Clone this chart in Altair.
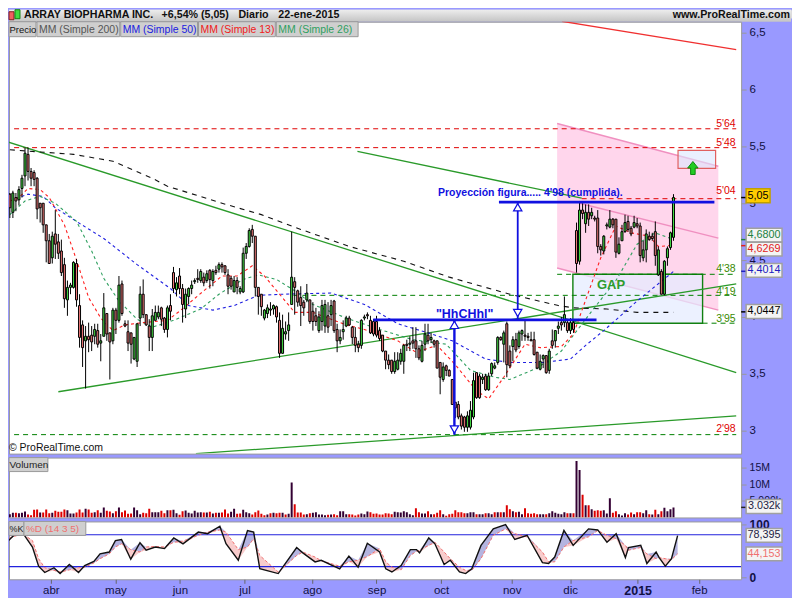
import altair as alt
import pandas as pd

FONT = "Liberation Sans"

opens = [5.08,4.92,5.05,5.03,5.13,5.24,5.43,5.28,5.27,5.22,
5.0,5.0,4.81,4.67,4.52,4.73,4.66,4.58,4.46,4.15,
4.26,4.26,4.47,4.10,3.93,3.79,3.83,3.84,3.83,3.88,
3.77,3.83,4.03,3.86,3.79,4.06,3.97,4.29,3.94,3.87,
3.86,3.63,3.61,3.99,4.20,4.02,3.92,3.82,3.97,4.0,
4.08,3.99,3.89,4.10,4.39,4.24,4.36,4.25,4.07,4.18,
4.25,4.31,4.34,4.32,4.35,4.32,4.41,4.32,4.41,4.42,
4.46,4.45,4.37,4.34,4.22,4.32,4.22,4.22,4.56,4.62,
4.77,4.71,4.26,4.20,3.99,4.03,4.06,4.07,4.09,3.97,
3.68,3.85,3.88,4.11,4.31,4.23,4.17,4.13,4.15,4.15,
4.05,4.01,3.88,3.96,3.92,4.01,4.02,4.14,3.89,3.79,
3.87,3.92,3.99,3.91,3.82,3.76,3.75,3.99,4.02,3.97,
3.96,3.96,3.88,3.84,3.70,3.62,3.62,3.52,3.54,3.61,
3.61,3.76,3.76,3.79,3.79,3.72,3.61,3.76,3.84,3.80,
3.79,3.79,3.60,3.45,3.57,3.53,3.45,3.25,3.23,3.13,
3.12,3.03,3.03,3.12,3.51,3.48,3.45,3.48,3.36,3.50,
3.55,3.60,3.82,3.76,3.94,3.70,3.74,3.80,3.74,3.85,
3.84,3.83,3.80,3.80,3.69,3.54,3.63,3.66,3.53,3.79,
3.79,3.90,3.95,3.95,3.95,3.88,3.95,4.76,4.49,4.94,
4.82,4.92,4.89,4.87,4.87,4.62,4.58,4.80,4.79,4.86,
4.86,4.56,4.67,4.75,4.84,4.78,4.79,4.82,4.80,4.52,
4.59,4.71,4.71,4.75,4.37,4.40,4.20,4.52,4.61,4.70]
closes = [4.96,5.09,5.02,5.12,5.22,5.44,5.28,5.22,5.21,4.95,
4.96,4.81,4.67,4.47,4.71,4.64,4.56,4.39,4.16,4.26,
4.28,4.48,4.15,3.82,3.73,3.83,3.80,3.78,3.89,3.76,
3.79,4.08,3.85,3.78,4.06,3.97,4.28,4.03,3.92,3.77,
3.76,3.82,3.94,4.20,4.02,3.93,3.82,4.01,4.04,4.04,
3.98,3.89,4.08,4.05,4.25,4.30,4.25,4.11,4.20,4.25,
4.28,4.32,4.33,4.40,4.30,4.38,4.33,4.40,4.39,4.46,
4.44,4.39,4.27,4.27,4.32,4.26,4.25,4.56,4.62,4.76,
4.71,4.26,4.18,4.09,4.06,4.08,4.07,4.10,4.0,3.68,
3.90,3.87,3.93,4.35,4.26,4.13,4.10,4.08,4.21,3.96,
3.96,3.96,4.0,4.10,4.11,3.91,4.10,3.88,3.79,3.82,
3.89,3.99,3.93,3.82,3.75,3.73,3.97,4.0,4.01,3.86,
3.85,3.84,3.81,3.70,3.62,3.58,3.52,3.61,3.62,3.68,
3.75,3.75,3.77,3.77,3.72,3.64,3.75,3.85,3.79,3.82,
3.76,3.55,3.47,3.56,3.53,3.48,3.23,3.20,3.12,3.04,
3.03,3.13,3.18,3.44,3.29,3.29,3.47,3.36,3.48,3.59,
3.57,3.82,3.80,3.86,3.58,3.57,3.80,3.71,3.86,3.88,
3.83,3.82,3.79,3.67,3.55,3.61,3.66,3.51,3.70,3.75,
3.88,3.92,3.93,4.02,3.88,3.95,3.89,4.47,4.94,4.91,
4.92,4.86,4.92,4.86,4.62,4.59,4.71,4.81,4.86,4.81,
4.57,4.64,4.75,4.83,4.77,4.73,4.83,4.80,4.54,4.59,
4.73,4.68,4.69,4.54,4.59,4.20,4.49,4.60,4.74,5.05]
highs = [5.09,5.11,5.09,5.15,5.25,5.49,5.49,5.31,5.29,5.23,
5.0,5.0,4.81,4.73,4.75,4.94,4.73,4.68,4.52,4.32,
4.30,4.49,4.51,4.20,3.97,3.92,3.95,3.92,3.94,3.94,
3.85,4.21,4.03,3.86,4.08,4.08,4.36,4.32,3.97,3.97,
3.86,3.82,3.94,4.27,4.33,4.02,3.98,4.07,4.10,4.10,
4.09,4.0,4.10,4.20,4.44,4.35,4.43,4.29,4.25,4.26,
4.32,4.34,4.42,4.42,4.39,4.41,4.42,4.42,4.45,4.48,
4.48,4.45,4.42,4.36,4.36,4.35,4.27,4.61,4.65,4.78,
4.81,4.71,4.26,4.20,4.07,4.11,4.13,4.11,4.10,4.04,
4.02,3.96,4.04,4.75,4.35,4.24,4.27,4.15,4.29,4.15,
4.13,4.08,4.05,4.15,4.15,4.13,4.15,4.15,3.94,3.89,
3.97,4.01,4.01,3.92,3.91,3.79,3.98,4.02,4.04,4.01,
3.98,4.01,3.91,3.84,3.70,3.67,3.62,3.69,3.69,3.72,
3.76,3.80,3.83,3.91,3.91,3.75,3.79,3.94,3.94,3.86,
3.80,3.79,3.60,3.60,3.58,3.54,3.45,3.25,3.26,3.15,
3.13,3.17,3.26,3.51,3.51,3.50,3.50,3.50,3.51,3.60,
3.60,3.83,3.83,3.88,3.96,3.75,3.83,3.86,3.88,3.89,
3.97,3.86,3.87,3.87,3.69,3.67,3.67,3.66,3.72,3.89,
3.88,3.96,4.0,4.18,3.97,3.99,3.98,4.83,5.02,5.0,
4.99,4.99,4.96,4.89,4.94,4.64,4.72,4.83,4.94,4.87,
4.86,4.70,4.81,4.90,4.89,4.80,4.89,4.87,4.83,4.67,
4.77,4.75,4.74,4.84,4.62,4.42,4.50,4.62,4.75,5.08]
lows = [4.87,4.87,4.93,4.98,5.05,5.15,5.2,5.15,5.15,4.86,
4.83,4.74,4.48,4.47,4.47,4.51,4.51,4.36,4.08,4.01,
4.2,4.25,4.09,3.73,3.56,3.37,3.69,3.70,3.76,3.73,
3.61,3.83,3.79,3.45,3.76,3.85,3.95,4.01,3.91,3.70,
3.59,3.62,3.56,3.92,3.99,3.92,3.70,3.70,3.97,3.98,
3.92,3.86,3.82,3.97,4.21,4.18,4.20,3.95,3.99,4.11,
4.20,4.29,4.30,4.30,4.27,4.30,4.25,4.27,4.37,4.39,
4.39,4.37,4.20,4.24,4.22,4.20,4.20,4.21,4.51,4.61,
4.65,4.18,4.02,4.01,3.97,3.99,4.01,4.02,3.95,3.64,
3.68,3.80,3.79,4.11,4.02,4.09,3.92,4.01,4.13,3.94,
3.88,3.92,3.86,3.88,3.86,3.86,3.92,3.86,3.69,3.76,
3.80,3.91,3.92,3.76,3.69,3.69,3.72,3.97,3.98,3.85,
3.83,3.82,3.79,3.69,3.54,3.54,3.50,3.50,3.53,3.58,
3.50,3.70,3.70,3.72,3.64,3.62,3.60,3.70,3.76,3.77,
3.73,3.55,3.32,3.43,3.48,3.48,3.23,3.11,3.10,3.01,
2.99,2.99,3.01,3.10,3.28,3.28,3.41,3.35,3.35,3.48,
3.54,3.58,3.79,3.60,3.47,3.55,3.61,3.69,3.72,3.79,
3.79,3.79,3.79,3.66,3.54,3.53,3.55,3.50,3.50,3.72,
3.73,3.85,3.88,3.91,3.86,3.85,3.86,4.39,4.46,4.86,
4.74,4.80,4.86,4.84,4.56,4.54,4.55,4.77,4.78,4.78,
4.52,4.55,4.67,4.74,4.75,4.71,4.78,4.78,4.48,4.49,
4.48,4.67,4.67,4.45,4.36,4.20,4.19,4.45,4.59,4.67]
volumes = [1.0,1.4,1.4,1.3,1.4,1.8,0.9,0.7,2.3,2.4,
1.5,1.5,2.4,1.3,1.4,2.0,1.7,1.7,2.4,2.2,
1.2,1.2,1.5,2.4,1.5,2.6,2.4,1.4,1.6,2.2,
1.4,3.0,2.0,1.8,1.3,1.9,3.0,1.6,2.1,1.1,
1.2,3.0,2.2,1.0,1.4,1.3,2.6,1.6,1.6,1.6,
2.0,1.3,2.2,2.2,2.3,1.3,0.8,1.9,2.1,1.4,
1.2,2.0,1.5,1.6,1.5,1.5,1.7,1.2,1.4,1.4,
1.5,2.4,1.2,1.7,2.6,1.1,1.2,2.3,1.6,1.3,
0.9,1.6,2.1,1.1,0.7,0.9,1.3,1.4,1.3,1.4,
1.4,0.9,1.1,10.5,4.0,1.5,1.5,0.9,1.0,1.3,
1.4,1.6,0.9,0.9,0.7,0.8,0.9,1.0,0.7,1.9,
1.9,1.0,1.0,0.9,0.6,0.9,1.2,1.0,1.8,1.6,
1.1,1.2,0.9,0.9,1.3,1.2,1.0,1.7,1.6,1.5,
1.9,1.6,1.0,0.7,2.8,1.6,1.2,1.2,1.9,1.0,1.0,1.4,2.2,1.0,0.5,1.0,1.1,
2.2,1.6,1.6,1.3,1.3,1.6,1.6,1.0,1.0,1.0,1.3,1.3,1.0,1.6,
1.6,1.6,1.6,3.7,2.5,1.9,1.6,1.7,1.0,2.8,1.3,1.1,1.3,
1.0,1.0,1.0,1.0,1.3,1.9,1.4,1.1,1.0,1.6,1.3,1.3,1.3,
17,14.3,6.8,3.7,3.7,2.5,2.0,2.2,2.0,2.2,1.2,5.8,1.4,1.9,
1.0,0.6,1.3,0.9,1.5,1.0,1.6,1.6,1.3,2.2,1.0,0.9,2.3,
1.0,1.9,2.9,1.9,2.5,3.03]

ma200_i = [0,21,34,47,52,70,83,96,112,130,145,165,181,186,197,207,219]
ma200_p = [5.47,5.43,5.37,5.22,5.15,5.0,4.90,4.77,4.62,4.49,4.35,4.2,4.10,4.08,4.07,4.04,4.04]
ma50_i = [2,6,11,15,22,31,42,53,59,67,74,82,90,106,117,128,138,146,157,165,176,185,190,196,207,219]
ma50_p = [5.04,5.08,5.06,4.96,4.84,4.69,4.46,4.25,4.10,4.06,4.10,4.19,4.20,4.21,4.11,3.94,3.86,3.79,3.63,3.60,3.60,3.63,3.75,3.88,4.14,4.40]
ma26_i = [0,5,10,15,22,27,31,36,42,47,54,63,69,77,82,88,94,100,111,122,133,144,152,160,165,174,182,192,200,207,213,219]
ma26_p = [4.90,5.02,5.06,5.0,4.84,4.58,4.34,4.14,3.98,3.91,3.97,4.07,4.20,4.33,4.37,4.33,4.23,4.11,3.99,3.89,3.80,3.76,3.53,3.47,3.45,3.55,3.70,4.05,4.32,4.64,4.74,4.68]
ma13_i = [0,3,6,10,13,18,22,26,30,34,38,44,52,56,64,70,75,80,84,89,94,100,111,117,128,134,141,147,154,158,163,170,175,182,186,195,200,205,211,214,219]
ma13_p = [5.02,5.05,5.13,5.12,5.05,4.81,4.50,4.17,3.99,3.88,3.93,3.95,3.97,4.05,4.23,4.36,4.36,4.45,4.36,4.20,4.04,4.04,3.93,3.89,3.79,3.69,3.75,3.58,3.35,3.28,3.47,3.76,3.73,3.74,3.85,4.52,4.80,4.74,4.71,4.62,4.63]

st_i = [0,1,3,6,9,11,13,16,18,21,24,26,29,31,34,36,38,41,44,46,49,52,55,58,63,66,70,72,76,79,81,83,89,95,97,101,103,109,112,115,118,122,124,126,129,
        132,134,135,138,140,143,145,148,150,152,155,159,163,166,170,175,177,179,182,185,190,193,196,199,202,203,207,209,212,213,215,217,219]
st_k = [72.5,68,79,82,57,21,9,18,7,24,9,22,30,44,47.5,69,71,34,65,51,57,54,74,63,85,82,96,63,32,88,85,16,7,56,46,29,32,16,40,19,64,47.5,16,10,22,
        52,52,46,74,63,24,32,10,7,16,60,91,99,71,79,27.5,26,38,88,60,91,89,66,82,37,56,60,26,47.5,37,21,35,78.4]
st_d = [76,72.5,77,81,69,35,18,13,10,14,18,19,27,35,44,57,63,52,47.5,57,58,57,66,68,79,85,89,85,52,57,72.5,41,10,41,47.5,38,31,21,29,32,39,54,29,19,14,
        41,49,51,60,66,47.5,35,19,13,13,35,79,91,82,76,47.5,29,29,57,69,76,88,79,72.5,60,51,56,44,35,37,35,33,44.15]

month_ticks = [15,36,57,78,100,121,142,165,184,206,226]
month_names = ["abr","may","jun","jul","ago","sep","oct","nov","dic","2015","feb"]

levels = [(5.655,1.4,239.7,"#E00000"),(5.489,1.4,239.7,"#E00000"),(5.04,188.7,239.7,"#E00000"),
          (4.375,180.6,239.7,"#008000"),(4.19,93.6,239.7,"#008000"),(3.945,228.6,239.7,"#008000"),(2.965,1.4,239.7,"#008000")]
level_labels = [("5'64",5.693,"#E00000"),("5'48",5.526,"#E00000"),("5'04",5.105,"#E00000"),
                ("4'38",4.42,"#3A8A00"),("4'19",4.22,"#3A8A00"),("3'95",3.98,"#3A8A00"),("2'98",3.017,"#E00000")]
trend_lines = [(-1.2,5.544,239.7,3.51,"#2A9A2A"),(114.7,5.456,188.7,5.044,"#2A9A2A"),
               (16,3.342,239.7,4.29,"#2A9A2A"),(61.4,2.798,239.7,3.13,"#2A9A2A"),(182.2,6.60,239.7,6.351,"#F03030")]

xs = alt.Scale(domain=[1.364, 239.675], nice=False, zero=False)
ys = alt.Scale(domain=[2.798, 6.5965], nice=False, zero=False)
vs = alt.Scale(domain=[0, 18], nice=False, zero=False)
ss = alt.Scale(domain=[-3.75, 105], nice=False, zero=False)

dummy = pd.DataFrame({"a": [0]})
n = min(len(opens), len(closes), len(highs), len(lows))
cd = pd.DataFrame({"i": range(n), "o": opens[:n], "h": highs[:n], "l": lows[:n], "c": closes[:n]})
cd["dir"] = ["up" if c >= o else "dn" for o, c in zip(cd.o, cd.c)]
vd = pd.DataFrame({"i": range(len(volumes)), "v": volumes})
vd["dir"] = ["up" if k == 0 or k >= n or closes[k] >= closes[k-1] else "dn" for k in range(len(volumes))]


def X(f="i"):
    return alt.X(f"{f}:Q", scale=xs, axis=None)


def Y(f="p", s=ys):
    return alt.Y(f"{f}:Q", scale=s, axis=None)


def seg(i0, p0, i1, p1, color, w=1.5, dash=None, s=ys):
    df = pd.DataFrame({"i": [i0, i1], "p": [p0, p1]})
    kw = dict(color=color, strokeWidth=w, clip=True)
    if dash:
        kw["strokeDash"] = dash
    return alt.Chart(df).mark_line(**kw).encode(x=X(), y=Y("p", s))


def txt(i, p, t, color="black", size=11, bold=False, align="left", s=ys):
    return alt.Chart(pd.DataFrame({"i": [i], "p": [p], "t": [t]})).mark_text(
        color=color, fontSize=size, fontWeight="bold" if bold else "normal", align=align,
        baseline="middle", font=FONT).encode(x=X(), y=Y("p", s), text="t:N")


def btn(x0, x1, y0, y1, t, color, off=2, size=10.5):
    r = alt.Chart(dummy).mark_rect(fill="#CFCFCF", stroke="#9A9A9A", strokeWidth=1).encode(
        x=alt.value(x0), x2=alt.value(x1), y=alt.value(y0), y2=alt.value(y1))
    l = alt.Chart(dummy).mark_text(text=t, color=color, fontSize=size, align="left", baseline="middle", font=FONT).encode(
        x=alt.value(x0 + off), y=alt.value((y0 + y1) / 2 + 0.5))
    return r + l


def pbox(pos, half, t, color, s, x0=739, x1=775, fill="#F4F4F4", stroke="#A0A0A0"):
    df = pd.DataFrame({"a": [pos - half], "b": [pos + half], "p": [pos], "t": [t]})
    r = alt.Chart(df).mark_rect(fill=fill, stroke=stroke, strokeWidth=1.5).encode(
        x=alt.value(x0), x2=alt.value(x1), y=alt.Y("a:Q", scale=s, axis=None), y2="b:Q")
    l = alt.Chart(df).mark_text(color=color, fontSize=10.8, align="center", baseline="middle", font=FONT).encode(
        x=alt.value((x0 + x1) / 2), y=alt.Y("p:Q", scale=s, axis=None), text="t:N")
    return r + l


def ptick(p, color, s):
    return alt.Chart(pd.DataFrame({"p": [p]})).mark_rule(color=color, strokeWidth=1.5).encode(
        x=alt.value(734), x2=alt.value(739), y=alt.Y("p:Q", scale=s, axis=None))


def ma(idx, vals, color, dash):
    return alt.Chart(pd.DataFrame({"i": idx, "p": vals})).mark_line(
        color=color, strokeWidth=1.1, strokeDash=dash, clip=True).encode(x=X(), y=Y())


# ---------- header ----------
header_layers = [
    alt.Chart(dummy).mark_rect(fill=alt.Gradient(gradient="linear", x1=0, x2=0, y1=0, y2=1,
        stops=[alt.GradientStop(offset=0, color="#EDEDED"), alt.GradientStop(offset=1, color="#C4C4C4")])).encode(
        x=alt.value(0), x2=alt.value(784), y=alt.value(0), y2=alt.value(12)),
    alt.Chart(dummy).mark_rect(fill="#F06060", stroke="#802020").encode(
        x=alt.value(0), x2=alt.value(5), y=alt.value(2), y2=alt.value(10)),
    alt.Chart(dummy).mark_rect(fill="#40DD40", stroke="#108010").encode(
        x=alt.value(6), x2=alt.value(11), y=alt.value(0), y2=alt.value(9)),
]
for x, t, w, col, al in [(15, "ARRAY BIOPHARMA INC.", "bold", "#101010", "left"), (153, "+6,54% (5,05)", "bold", "#101010", "left"),
                         (230, "Diario", "bold", "#101010", "left"), (270, "22-ene-2015", "bold", "#101010", "left"),
                         (783, "www.ProRealTime.com", "bold", "#101010", "right")]:
    header_layers.append(alt.Chart(dummy).mark_text(text=t, fontWeight=w, color=col, fontSize=10.7, align=al,
                                                    baseline="middle", font=FONT).encode(x=alt.value(x), y=alt.value(5.5)))
header = alt.layer(*header_layers).properties(width=784, height=8)

# ---------- main price panel ----------
pink_df = pd.DataFrame({"i": [180.6, 233.8], "a": [5.702, 5.325], "b": [4.43, 4.06]})
pink = alt.Chart(pink_df).mark_area(color="#FFD6EC", clip=True).encode(x=X(), y=Y("a"), y2="b:Q")
gap_df = pd.DataFrame({"i": [185.8], "i2": [228.6], "a": [4.375], "b": [3.945]})
gap = alt.Chart(gap_df).mark_rect(fill="#E4ECFF", fillOpacity=0.72, stroke="#118011", strokeWidth=1.4).encode(
    x=X(), x2="i2:Q", y=Y("a"), y2="b:Q")
tgt_df = pd.DataFrame({"i": [220.5], "i2": [232.9], "a": [5.465], "b": [5.307]})
tgt = alt.Chart(tgt_df).mark_rect(fill="#DCE6FF", fillOpacity=0.6, stroke="#E06060", strokeWidth=1.2).encode(
    x=X(), x2="i2:Q", y=Y("a"), y2="b:Q")
arrow = alt.Chart(pd.DataFrame({"i": [225.4], "p": [5.31]})).mark_point(
    shape="M0,-1 L0.8,0 L0.35,0 L0.35,1 L-0.35,1 L-0.35,0 L-0.8,0 Z", size=170, filled=True,
    fill="#22CC22", stroke="#118811", strokeWidth=1, opacity=1).encode(x=X(), y=Y())

wicks = alt.Chart(cd).mark_rule(color="black", strokeWidth=1, clip=True).encode(x=X(), y=Y("h"), y2="l:Q")
bodies = alt.Chart(cd).mark_bar(size=2, stroke="black", strokeWidth=1, orient="vertical", clip=True).encode(
    x=X(), y=Y("o"), y2="c:Q",
    fill=alt.Fill("dir:N", scale=alt.Scale(domain=["up", "dn"], range=["#44DD44", "#F07878"]), legend=None))

price_axis = alt.Axis(orient="right", values=[3, 3.5, 4, 4.5, 5, 5.5, 6, 6.5], labelExpr="replace(''+datum.value,'.',',')",
                      title=None, grid=False, domain=False, tickColor="#999999", tickSize=5, labelColor="#111144",
                      labelFontSize=11.5, labelFont=FONT, labelPadding=3, labelOverlap=False, labelBound=False, labelFlush=False)
axis_layer = alt.Chart(pd.DataFrame({"p": [3.0, 6.5], "i": [100, 100]})).mark_point(opacity=0).encode(
    x=X(), y=alt.Y("p:Q", scale=ys, axis=price_axis))

main_layers = [axis_layer, pink,
               seg(180.6, 5.702, 233.8, 5.325, "#F090C0"), seg(180.6, 4.43, 233.8, 4.06, "#F090C0"),
               seg(188, 5.0, 233.8, 4.693, "#F090C0"), gap, tgt]
for p, a, b, col in levels:
    main_layers.append(seg(a, p, b, p, col, 1, [5, 4]))
for a, pa, b, pb, col in trend_lines:
    main_layers.append(seg(a, pa, b, pb, col, 1.3))
main_layers += [ma(ma200_i, ma200_p, "#111111", [5, 5]), ma(ma50_i, ma50_p, "#2020E0", [3, 3]),
                ma(ma26_i, ma26_p, "#30A060", [3, 3]), ma(ma13_i, ma13_p, "#FF2020", [3, 3]), wicks, bodies, arrow]
# projection lines and arrows
main_layers += [seg(119.9, 3.974, 193.6, 3.974, "#1010E0", 2.6), seg(161.4, 5.01, 232.5, 5.01, "#1010E0", 2.6),
                seg(146.7, 3.974, 146.7, 2.965, "#1010E0", 2.4), seg(167.6, 5.01, 167.6, 3.974, "#1010E0", 1.8)]
for i, p, sh in [(146.7, 3.93, "triangle-up"), (146.7, 3.01, "triangle-down"), (167.6, 4.965, "triangle-up"), (167.6, 4.035, "triangle-down")]:
    main_layers.append(alt.Chart(pd.DataFrame({"i": [i], "p": [p]})).mark_point(
        shape=sh, size=70, filled=True, fill="white", stroke="#1010E0", strokeWidth=1.2, opacity=1).encode(x=X(), y=Y()))
for t, p, col in level_labels:
    main_layers.append(txt(239.5, p, t, col, 10.5, align="right"))
main_layers += [txt(141.3, 5.088, "Proyección figura..... 4'98 (cumplida).", "#1010E0", 10.5, True),
                txt(150.1, 4.026, '"HhCHhl"', "#1010E0", 12.5, True, "center"),
                txt(198.4, 4.28, "GAP", "#2E9B2E", 13, True, "center"),
                alt.Chart(dummy).mark_text(text="© ProRealTime.com", fontSize=10.5, align="left", baseline="middle",
                                           font=FONT, color="#111111").encode(x=alt.value(0), y=alt.value(427))]
main_layers.append(btn(0, 27, 0, 15, "Precio", "#111111", 0.5, 9.5))
for x0, x1, t, col in [(28, 111, "MM (Simple 200)", "#555555"), (112, 189, "MM (Simple 50)", "#2020E0"),
                       (190, 267, "MM (Simple 13)", "#F02020"), (268, 350, "MM (Simple 26)", "#30A060")]:
    main_layers.append(btn(x0, x1, 0, 15, t, col))
for pos, t, col, fill, stroke, x1, tick in [(5.066, "5,05", "black", "#FFCC00", "#C0A000", 763, 5.05), (4.72, "4,6800", "#208040", "#F4F4F4", "#A0A0A0", 775, 4.68),
                                            (4.596, "4,6269", "#E02020", "#F4F4F4", "#A0A0A0", 775, 4.6269), (4.41, "4,4014", "#2020C0", "#F4F4F4", "#A0A0A0", 775, 4.4014),
                                            (4.048, "4,0447", "black", "#F4F4F4", "#A0A0A0", 775, 4.0447)]:
    main_layers.append(ptick(tick, col, ys))
    main_layers.append(pbox(pos, 0.061, t, col, ys, x1=x1, fill=fill, stroke=stroke))
main = alt.layer(*main_layers).resolve_axis(x="independent", y="independent").properties(
    width=734, height=433, view=alt.ViewBackground(fill="white", stroke="#9A9A9A"))

# ---------- volume panel ----------
vol_axis = alt.Axis(orient="right", values=[5, 10, 15], labelExpr="datum.value==5?'5,000k':datum.value+'M'", title=None, grid=False,
                    domain=False, tickColor="#999999", tickSize=5, labelColor="#111144", labelFontSize=10.5, labelFont=FONT, labelPadding=3,
                    labelOverlap=False, labelBound=False, labelFlush=False)
vol_bars = alt.Chart(vd).mark_bar(size=2, orient="vertical", clip=True).encode(
    x=X(), y=alt.Y("v:Q", scale=vs, axis=vol_axis),
    color=alt.Color("dir:N", scale=alt.Scale(domain=["up", "dn"], range=["#330033", "#DD0000"]), legend=None))
vol = alt.layer(vol_bars, btn(0, 39, 0, 14, "Volumen", "#222222", 0.5, 10), ptick(3.03, "#222222", vs),
                pbox(3.3, 2.1, "3.032k", "#222244", vs)).resolve_axis(x="independent", y="independent").properties(
    width=734, height=60, view=alt.ViewBackground(fill="white", stroke="#9A9A9A"))

# ---------- stochastic panel ----------
m = min(len(st_i), len(st_k), len(st_d))
sd = pd.DataFrame({"i": st_i[:m], "k": st_k[:m], "d": st_d[:m]})
sd["hi"] = sd[["k", "d"]].max(axis=1)
sd["lo"] = sd[["k", "d"]].min(axis=1)
label_expr = "''"
for tv, tn in zip(month_ticks, month_names):
    label_expr = f"datum.value=={tv}?'{tn}':({label_expr})"
st_x_axis = alt.Axis(values=month_ticks, labelExpr=label_expr, title=None, grid=False, domain=False, tickColor="#666666", tickSize=4,
                     labelColor="#111144", labelFontSize=alt.expr("datum.value==206?12.5:11.5"),
                     labelFontWeight=alt.expr("datum.value==206?'bold':'normal'"), labelFont=FONT, labelPadding=1,
                     labelOverlap=False, labelBound=False, labelFlush=False)
st_y_axis = alt.Axis(orient="right", values=[0, 100], title=None, grid=False, domain=False, tickColor="#999999", tickSize=5,
                     labelColor="#111144", labelFontSize=12, labelFontWeight="bold", labelFont=FONT, labelPadding=3,
                     labelOverlap=False, labelBound=False, labelFlush=False)
st_base = alt.Chart(sd).mark_area(color="#B4B4E0", clip=True).encode(
    x=alt.X("i:Q", scale=xs, axis=st_x_axis), y=alt.Y("d:Q", scale=ss, axis=st_y_axis), y2="hi:Q")
st_pink = alt.Chart(sd).mark_area(color="#F8CCCC", clip=True).encode(x=X(), y=Y("d", ss), y2="lo:Q")
st_d_line = alt.Chart(sd).mark_line(color="#F07070", strokeWidth=1, strokeDash=[3, 2], clip=True).encode(x=X(), y=Y("d", ss))
st_k_line = alt.Chart(sd).mark_line(color="#111111", strokeWidth=1.4, clip=True).encode(x=X(), y=Y("k", ss))
st = alt.layer(st_base, st_pink, seg(1.4, 80, 239.7, 80, "#2222DD", 1.2, s=ss), seg(1.4, 20, 239.7, 20, "#2222DD", 1.2, s=ss),
               st_d_line, st_k_line, btn(0, 15, 0, 14, "%K", "#222222", 0.5, 9), btn(15, 77, 0, 14, "%D (14 3 5)", "#F07070", 2, 10),
               pbox(78.8, 13, "78,395", "#222244", ss), pbox(44, 13, "44,153", "#F07070", ss)).resolve_axis(
    x="independent", y="independent").properties(
    width=734, height=58, view=alt.ViewBackground(fill="white", stroke="#9A9A9A"))

chart = alt.vconcat(header, main, vol, st, spacing=4, bounds="flush").properties(
    background="#9999FF", padding=0).configure_view(strokeWidth=0).configure(font=FONT)

chart.save("out.html", embed_options={"renderer": "svg", "actions": False})
